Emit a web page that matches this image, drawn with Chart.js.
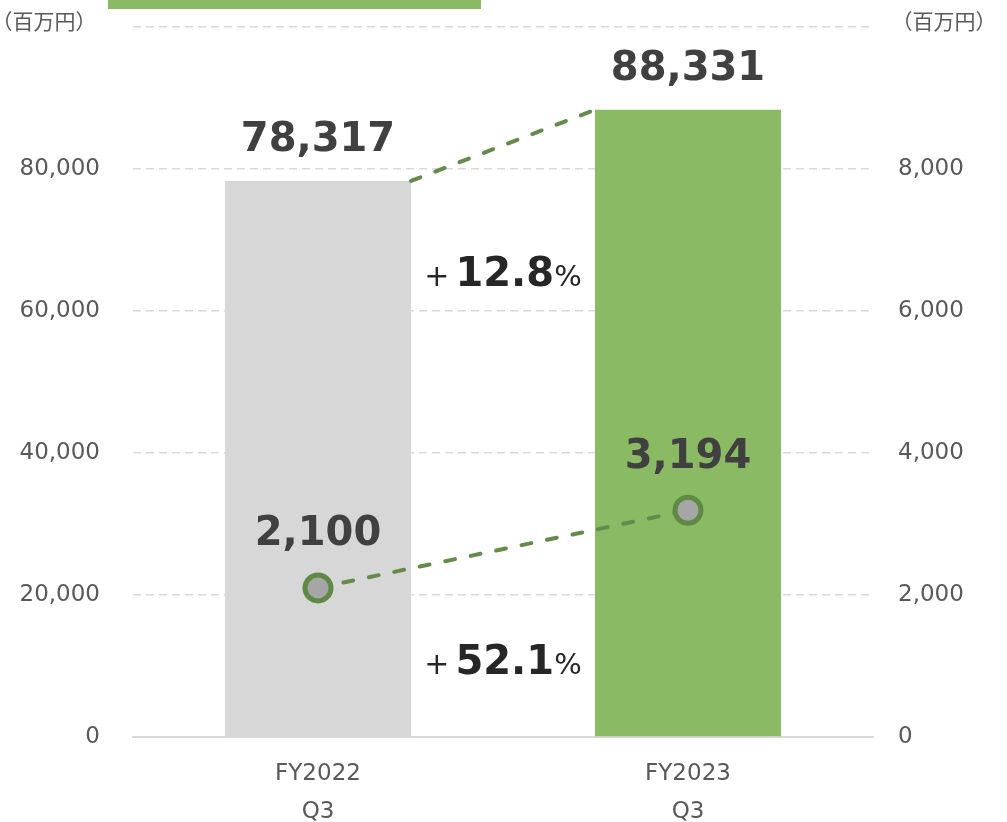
<!DOCTYPE html>
<html>
<head>
<meta charset="utf-8">
<script src="https://cdn.jsdelivr.net/npm/chart.js@4.4.1/dist/chart.umd.min.js"></script>
<style>
  html, body { margin: 0; padding: 0; background: #fff; }
  #wrap { width: 1007px; height: 822px; position: relative; }
</style>
</head>
<body>
<div id="wrap"><canvas id="chart"></canvas></div>
<script>
  // data
  const categories = [['FY2022', 'Q3'], ['FY2023', 'Q3']]
  const salesValues = [78317, 88331]      // left axis, bars
  const profitValues = [2100, 3194]       // right axis, line
  const barColors = ['#d7d7d7', '#8bba64']
  const leftMax = 100000
  const leftStep = 20000
  const rightMax = 10000
  const rightStep = 2000
  const unitLabel = '（百万円）'

  const LINE_GREEN = '#658b4c'
  const TEXT_GRAY = '#595959'
  const LABEL_DARK = '#404040'
  const FONT = "'DejaVu Sans', Verdana, sans-serif"
  const CJK = "'Noto Sans CJK JP', 'DejaVu Sans', sans-serif"

  function fmt(v) {
    return v.toLocaleString('en-US')
  }

  function growth(a, b) {
    return ((b / a - 1) * 100).toFixed(1)
  }

  function dashedLine(ctx, x1, y1, x2, y2) {
    ctx.save()
    ctx.strokeStyle = LINE_GREEN
    ctx.lineWidth = 4
    ctx.lineCap = 'round'
    ctx.setLineDash([10, 16])
    ctx.beginPath()
    ctx.moveTo(x1, y1)
    ctx.lineTo(x2, y2)
    ctx.stroke()
    ctx.restore()
  }

  function growthLabel(ctx, cx, baseline, pct) {
    const parts = [
      { t: '+', f: '30px ' + FONT },
      { t: pct, f: 'bold 40px ' + FONT },
      { t: '%', f: '29px ' + FONT }
    ]
    ctx.save()
    ctx.fillStyle = '#262626'
    ctx.textBaseline = 'alphabetic'
    ctx.textAlign = 'left'
    let total = 0
    parts.forEach(p => { ctx.font = p.f; p.w = ctx.measureText(p.t).width; total += p.w })
    total += 6
    let x = cx - total / 2
    parts.forEach((p, i) => {
      ctx.font = p.f
      ctx.fillText(p.t, x, baseline)
      x += p.w + (i === 0 ? 6 : 0)
    })
    ctx.restore()
  }

  // tick label padding should not push the plot area down
  function fixWidth(w) {
    return scale => {
      scale.width = w
      scale.paddingTop = 0
      scale.paddingBottom = 0
    }
  }

  const annotations = {
    id: 'annotations',
    beforeDraw(chart) {
      const ctx = chart.ctx
      // green strip at the very top (cut-off legend block)
      ctx.save()
      ctx.fillStyle = barColors[1]
      ctx.fillRect(108, 0, 373, 9)
      // unit labels
      ctx.fillStyle = TEXT_GRAY
      ctx.font = '21px ' + CJK
      ctx.textAlign = 'center'
      ctx.textBaseline = 'middle'
      ctx.fillText(unitLabel, 44, 21)
      ctx.fillText(unitLabel, 944, 21)
      ctx.restore()
    },
    afterDatasetsDraw(chart) {
      const ctx = chart.ctx
      const bars = chart.getDatasetMeta(1).data
      const pts = chart.getDatasetMeta(0).data
      const y = chart.scales.y

      // connector between bar tops
      dashedLine(ctx, bars[0].x + bars[0].width / 2, bars[0].y, bars[1].x - bars[1].width / 2, bars[1].y)

      ctx.save()
      ctx.fillStyle = LABEL_DARK
      ctx.font = 'bold 40px ' + FONT
      ctx.textAlign = 'center'
      ctx.textBaseline = 'middle'
      bars.forEach((b, i) => ctx.fillText(fmt(salesValues[i]), b.x, b.y - 40))
      pts.forEach((p, i) => ctx.fillText(fmt(profitValues[i]), p.x, p.y - 53))
      ctx.restore()

      const cx = (chart.chartArea.left + chart.chartArea.right) / 2
      growthLabel(ctx, cx, y.getPixelForValue(63500), growth(salesValues[0], salesValues[1]))
      growthLabel(ctx, cx, y.getPixelForValue(8900), growth(profitValues[0], profitValues[1]))
    }
  }

  new Chart(document.getElementById('chart'), {
    data: {
      labels: categories,
      datasets: [{
        type: 'line',
        label: 'profit',
        data: profitValues,
        yAxisID: 'y1',
        order: 0,
        borderColor: LINE_GREEN,
        borderWidth: 4,
        borderDash: [10, 16],
        borderCapStyle: 'round',
        pointRadius: 13,
        pointBorderWidth: 5,
        pointBorderColor: '#5f8a45',
        pointBackgroundColor: '#a6a6a6',
        fill: false
      }, {
        type: 'bar',
        label: 'sales',
        data: salesValues,
        yAxisID: 'y',
        order: 1,
        backgroundColor: barColors,
        categoryPercentage: 1,
        barPercentage: 0.503
      }]
    },
    options: {
      responsive: true,
      maintainAspectRatio: false,
      animation: false,
      layout: { padding: { top: 27, left: 0, right: 0, bottom: 0 } },
      plugins: {
        legend: { display: false },
        tooltip: { enabled: false }
      },
      scales: {
        x: {
          grid: { display: false, drawTicks: false },
          border: { display: true, color: '#d9d9d9', width: 2 },
          ticks: {
            color: TEXT_GRAY,
            font: { family: FONT, size: 23, lineHeight: 1.65 },
            padding: 18,
            maxRotation: 0
          },
          afterFit(scale) { scale.height = 85 }
        },
        y: {
          position: 'left',
          min: 0,
          max: leftMax,
          grid: { color: '#d9d9d9', lineWidth: 1.5, drawTicks: false },
          border: { display: false, dash: [8, 5] },
          ticks: {
            stepSize: leftStep,
            color: TEXT_GRAY,
            font: { family: FONT, size: 23 },
            padding: 33,
            callback: v => v === leftMax ? '' : fmt(v)
          },
          afterFit: fixWidth(133)
        },
        y1: {
          position: 'right',
          min: 0,
          max: rightMax,
          grid: { display: false, drawTicks: false },
          border: { display: false },
          ticks: {
            stepSize: rightStep,
            color: TEXT_GRAY,
            font: { family: FONT, size: 23 },
            padding: 25,
            callback: v => v === rightMax ? '' : fmt(v)
          },
          afterFit: fixWidth(134)
        }
      }
    },
    plugins: [annotations]
  })
</script>
</body>
</html>
